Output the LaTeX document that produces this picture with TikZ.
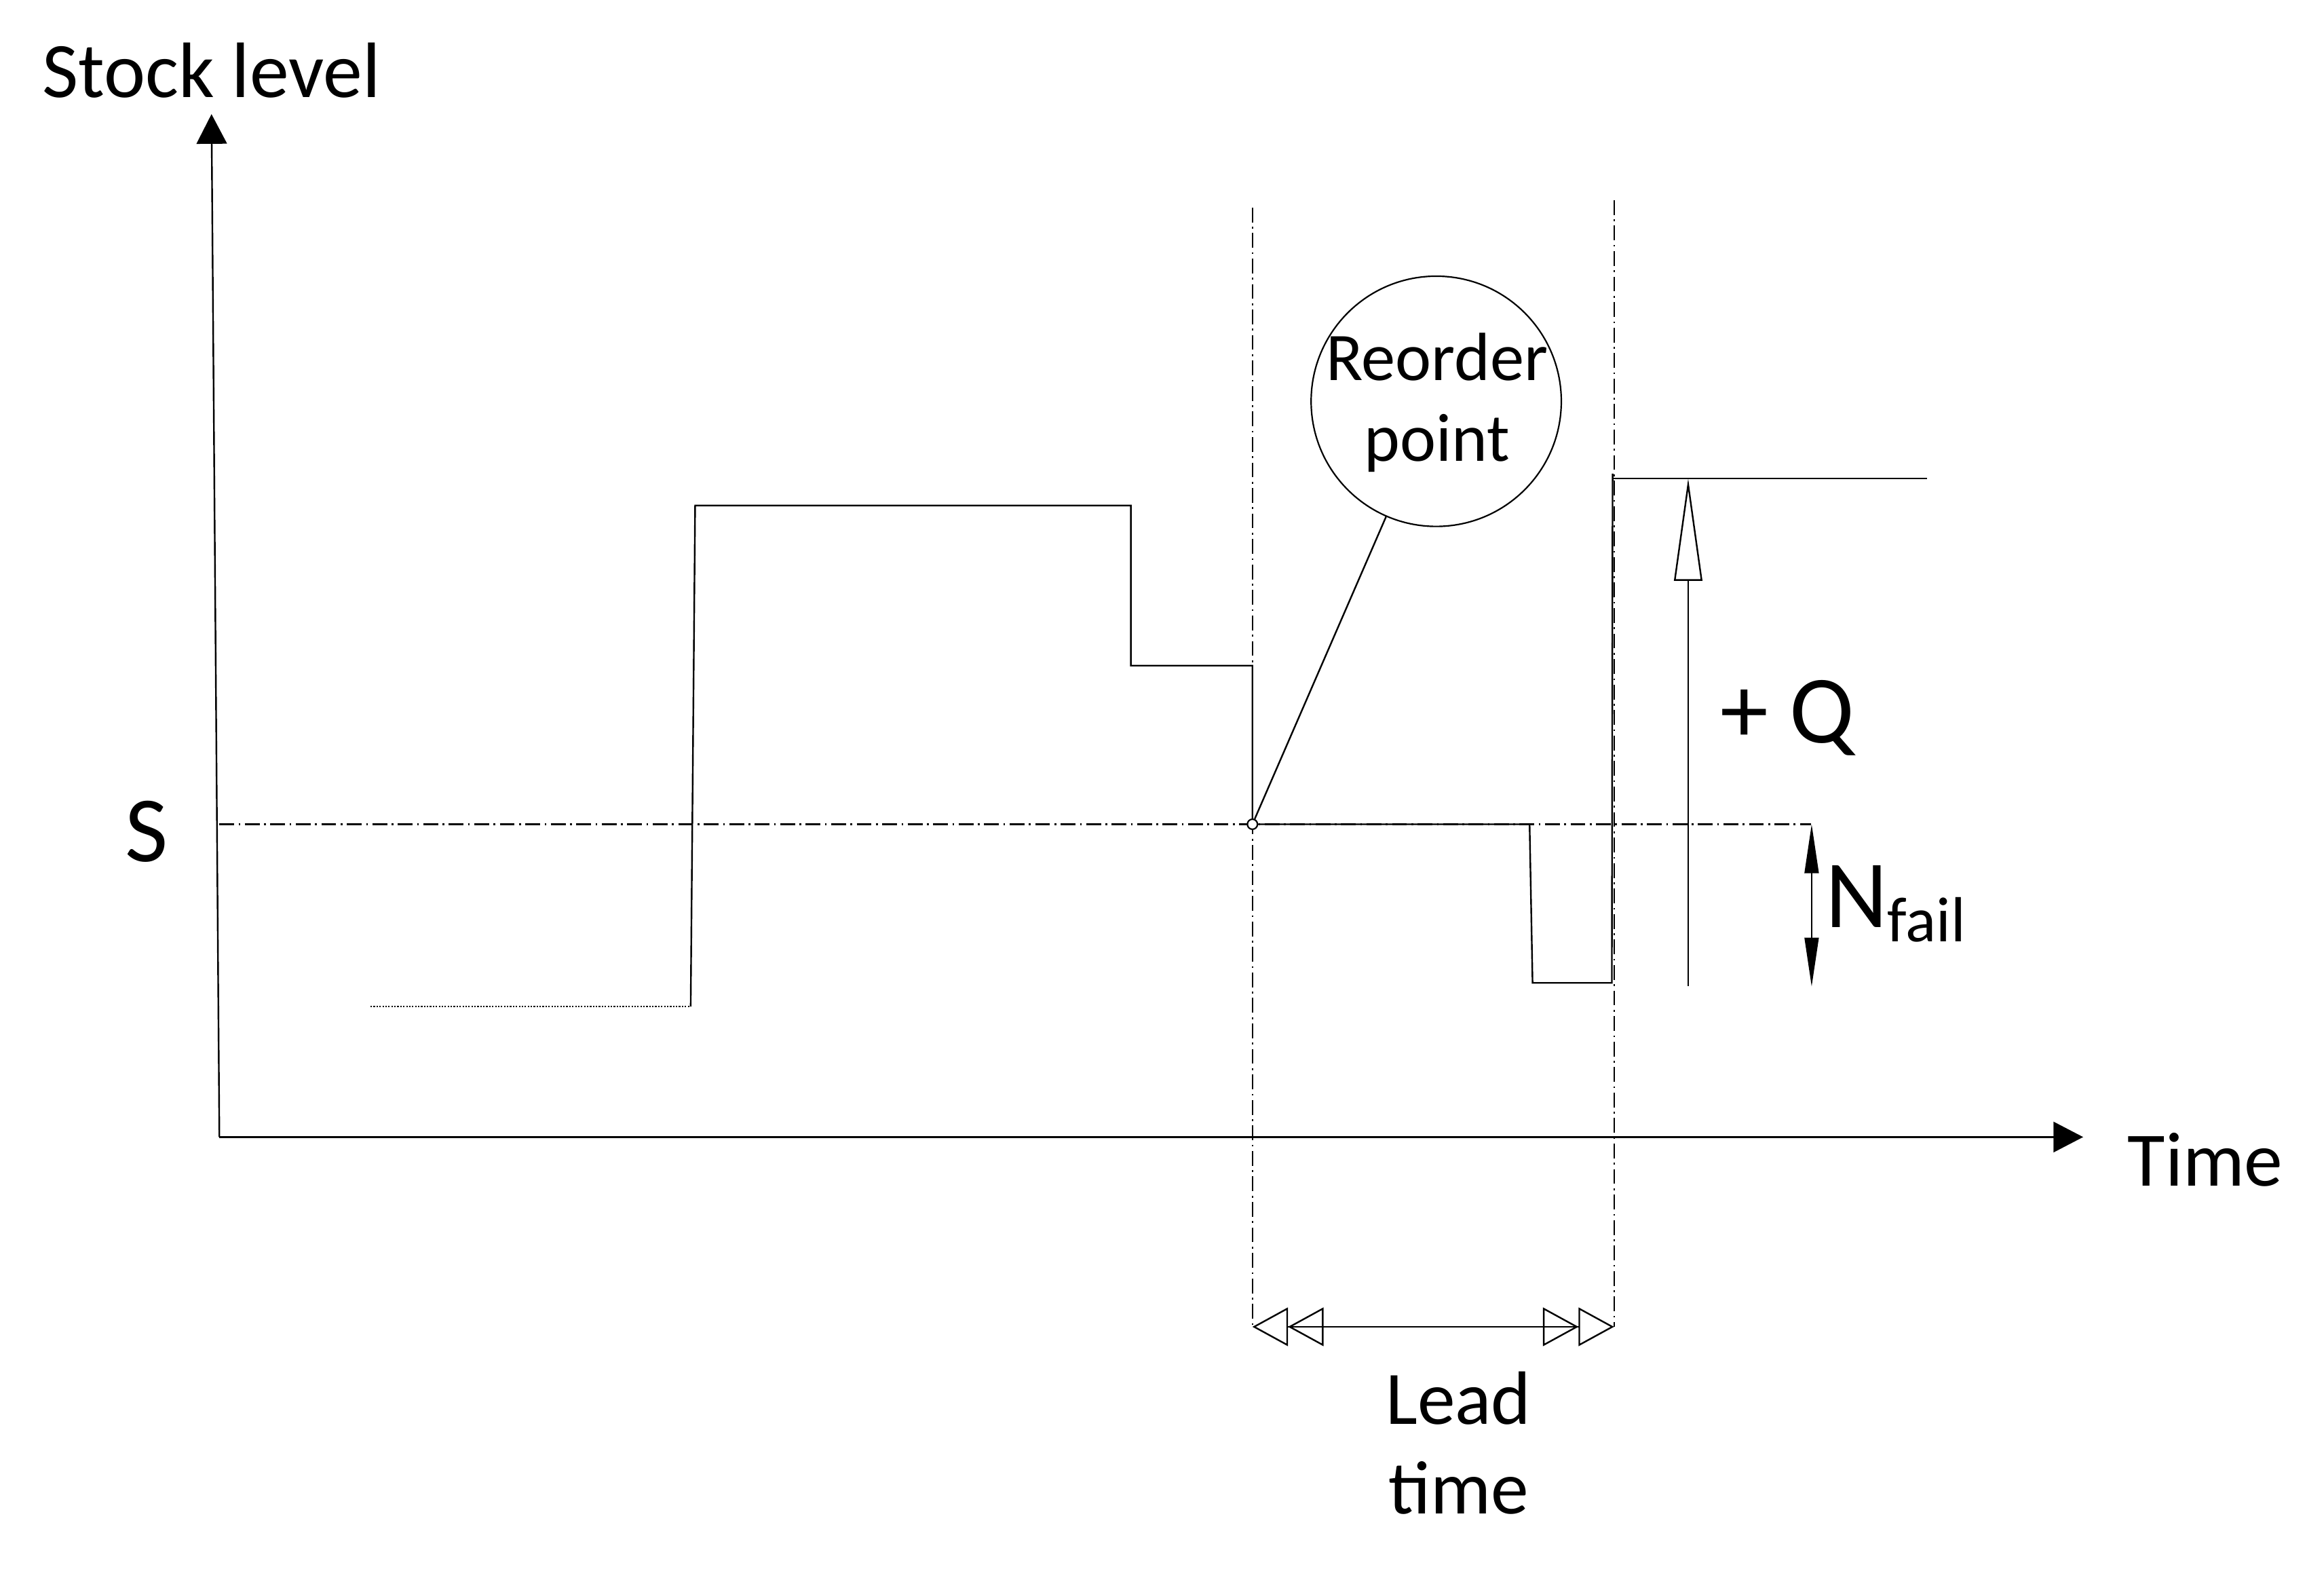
\documentclass[tikz,border=0pt]{standalone}
\usepackage{fontspec}
\setmainfont{Carlito}
\usetikzlibrary{arrows.meta}
\newcommand\fsz[1]{\fontsize{#1}{#1}\selectfont}
\begin{document}
\begin{tikzpicture}[x=1pt,y=-1pt,line width=1.1pt,
  dashdot/.style={line width=1.1pt,dash pattern=on 10pt off 3pt on 1.2pt off 3pt},
  dotline/.style={line width=1.2pt,dash pattern=on 1pt off 1pt},
  axisarrow/.style={-{Triangle[length=20pt,width=20.5pt]}},
  leadtip/.style={Triangle[open,length=24pt,width=26pt,sep=0pt]},
  qarrow/.style={-{Triangle[open,length=69pt,width=19pt]}},
  narrow/.style={{Triangle[length=33pt,width=9.5pt]}-{Triangle[length=33pt,width=9.5pt]}},
  txt/.style={inner sep=0pt,anchor=base west}]
\useasboundingbox (0,0) rectangle (1568,1067);

% axes
\coordinate (O) at (148,767);
\coordinate (ytop) at (142.7,77);
\coordinate (xend) at (1405.5,767);
\draw[axisarrow] (O) -- (ytop);
\draw[axisarrow] (O) -- (xend);
\node[txt,font=\fsz{53}] (ylab) at (28,65.5) {Stock level};
\node[txt,font=\fsz{52}] (xlab) at (1435,800) {Time};
\node[txt,font=\fsz{63}] (slab) at (84,581) {S};

% S level dash-dot line
\coordinate (s0) at (148,556);
\coordinate (s1) at (1222,556);
\draw[dashdot] (s0) -- (s1);

% vertical dash-dot lines
\coordinate (v1t) at (845,140);
\coordinate (v1b) at (845,895);
\coordinate (v2t) at (1089,135);
\coordinate (v2b) at (1089,895);
\draw[dashdot] (v1t) -- (v1b);
\draw[dashdot] (v2t) -- (v2b);

% stock path
\draw[dotline] (250,679) -- (466,679);
\draw (466,679) -- (469,341) -- (763,341) -- (763,449) -- (845,449) -- (845,556)
  -- (1032,556) -- (1034,663) -- (1087.5,663) -- (1088,319.5);
\draw (1088,322.8) -- (1300,322.8);

% reorder point
\node[circle,draw,line width=1pt,inner sep=0pt,minimum size=6.8pt,fill=white] (sc) at (845,556) {};
\node[circle,draw,line width=1pt,inner sep=0pt,minimum size=168.8pt] (rp) at (969,270.7) {};
\node[inner sep=0pt,anchor=base,font=\fsz{46}] (rp1) at (969.5,256.8) {Reorder};
\node[inner sep=0pt,anchor=base,font=\fsz{46}] (rp2) at (969.5,311.3) {point};
\draw (sc) -- (rp);

% +Q arrow
\coordinate (qb) at (1139,665);
\coordinate (qt) at (1139,322.8);
\draw[qarrow] (qb) -- (qt);
\node[txt,font=\fsz{65}] (qlab) at (1160,501) {+ Q};

% N_fail arrow
\coordinate (nt) at (1222.3,556);
\coordinate (nb) at (1222.3,665.5);
\draw[narrow] (nt) -- (nb);
\node[txt,font=\fsz{65}] (nlab) at (1231,625.7) {N\raisebox{-9.3pt}{\fsz{43}fail}};

% lead time arrow
\coordinate (la) at (845,895);
\coordinate (lb) at (1089,895);
\draw[{Triangle[open,length=24pt,width=26pt,sep=0pt]Triangle[open,length=24pt,width=26pt,sep=0pt]}-{Triangle[open,length=24pt,width=26pt,sep=0pt]Triangle[open,length=24pt,width=26pt,sep=0pt]}] (la) -- (lb);
\node[inner sep=0pt,anchor=base,font=\fsz{51}] (lt1) at (984,960.6) {Lead};
\node[inner sep=0pt,anchor=base,font=\fsz{51}] (lt2) at (984,1021) {time};
\end{tikzpicture}
\end{document}
